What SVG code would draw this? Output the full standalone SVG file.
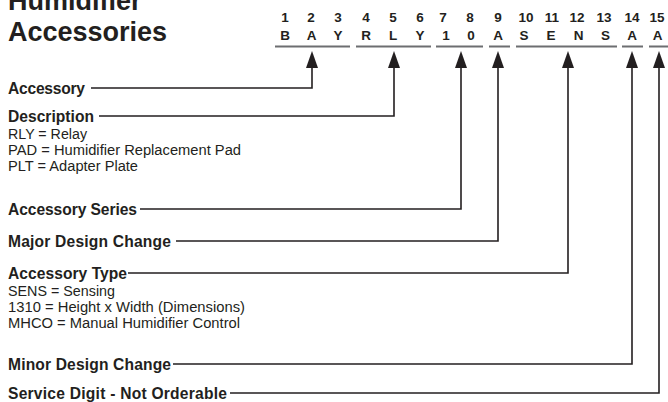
<svg xmlns="http://www.w3.org/2000/svg" width="668" height="402" viewBox="0 0 668 402">
<defs>
<marker id="ah" viewBox="0 0 17 12" refX="0" refY="6" markerWidth="17" markerHeight="12" markerUnits="userSpaceOnUse" orient="auto">
<path d="M0,0 L17,6 L0,12 z" fill="#231f20"/>
</marker>
<style>
.title{font-family:"Liberation Sans",Arial,sans-serif;font-weight:bold;font-size:27px;fill:#231f20}
.num{font-family:"Liberation Sans",Arial,sans-serif;font-weight:bold;font-size:13.5px;fill:#231f20;text-anchor:middle}
.let{font-family:"Liberation Sans",Arial,sans-serif;font-weight:bold;font-size:13.5px;fill:#231f20;text-anchor:middle}
.lbl{font-family:"Liberation Sans",Arial,sans-serif;font-weight:bold;font-size:15.6px;fill:#231f20}
.txt{font-family:"Liberation Sans",Arial,sans-serif;font-size:15.5px;fill:#231f20}
.ul{stroke:#6d6e71;stroke-width:2;fill:none}
.con{stroke:#231f20;stroke-width:1.6;fill:none;marker-end:url(#ah)}
</style>
</defs>
<rect width="668" height="402" fill="#ffffff"/>
<g id="title">
<text class="title" x="8" y="10">Humidifier</text>
<text class="title" x="8" y="41">Accessories</text>
</g>
<g id="code">
<text class="num" x="285" y="22">1</text>
<text class="num" x="311" y="22">2</text>
<text class="num" x="338" y="22">3</text>
<text class="num" x="366" y="22">4</text>
<text class="num" x="393" y="22">5</text>
<text class="num" x="420" y="22">6</text>
<text class="num" x="443" y="22">7</text>
<text class="num" x="470" y="22">8</text>
<text class="num" x="498" y="22">9</text>
<text class="num" x="526" y="22">10</text>
<text class="num" x="552" y="22">11</text>
<text class="num" x="577" y="22">12</text>
<text class="num" x="604" y="22">13</text>
<text class="num" x="632" y="22">14</text>
<text class="num" x="657" y="22">15</text>
<text class="let" x="285" y="40">B</text>
<text class="let" x="311.5" y="40">A</text>
<text class="let" x="338" y="40">Y</text>
<text class="let" x="366" y="40">R</text>
<text class="let" x="393" y="40">L</text>
<text class="let" x="420" y="40">Y</text>
<text class="let" x="446" y="40">1</text>
<text class="let" x="471" y="40">0</text>
<text class="let" x="498" y="40">A</text>
<text class="let" x="524" y="40">S</text>
<text class="let" x="551" y="40">E</text>
<text class="let" x="578.5" y="40">N</text>
<text class="let" x="605.5" y="40">S</text>
<text class="let" x="632" y="40">A</text>
<text class="let" x="657.5" y="40">A</text>
<path class="ul" d="M275,46.5 H350 M356,46.5 H431 M436,46.5 H483 M489,46.5 H510 M516,46.5 H617 M622,46.5 H643 M649,46.5 H668"/>
</g>
<g id="n-accessory"><text class="lbl" x="8" y="93.5" textLength="77">Accessory</text></g>
<g id="n-description">
<text class="lbl" x="8" y="121.5" textLength="86">Description</text>
<text class="txt" x="8" y="138.5" textLength="79" lengthAdjust="spacingAndGlyphs">RLY = Relay</text>
<text class="txt" x="8" y="154.5" textLength="233" lengthAdjust="spacingAndGlyphs">PAD = Humidifier Replacement Pad</text>
<text class="txt" x="8" y="170.5" textLength="130" lengthAdjust="spacingAndGlyphs">PLT = Adapter Plate</text>
</g>
<g id="n-series"><text class="lbl" x="8" y="214.5" textLength="129">Accessory Series</text></g>
<g id="n-major"><text class="lbl" x="8" y="246.5" textLength="163">Major Design Change</text></g>
<g id="n-type">
<text class="lbl" x="8" y="278.5" textLength="119">Accessory Type</text>
<text class="txt" x="8" y="295.5" textLength="107" lengthAdjust="spacingAndGlyphs">SENS = Sensing</text>
<text class="txt" x="8" y="311.5" textLength="237" lengthAdjust="spacingAndGlyphs">1310 = Height x Width (Dimensions)</text>
<text class="txt" x="8" y="327.5" textLength="232" lengthAdjust="spacingAndGlyphs">MHCO = Manual Humidifier Control</text>
</g>
<g id="n-minor"><text class="lbl" x="8" y="369.5" textLength="163">Minor Design Change</text></g>
<g id="n-service"><text class="lbl" x="8" y="398.5" textLength="219">Service Digit - Not Orderable</text></g>
<g id="connectors">
<path class="con" d="M91,88 H312 V68"/>
<path class="con" d="M99,116 H394 V68"/>
<path class="con" d="M140,209 H461 V68"/>
<path class="con" d="M176,241 H498 V68"/>
<path class="con" d="M128,273 H568 V68"/>
<path class="con" d="M173,364 H632 V68"/>
<path class="con" d="M230,393 H659 V68"/>
</g>
</svg>
